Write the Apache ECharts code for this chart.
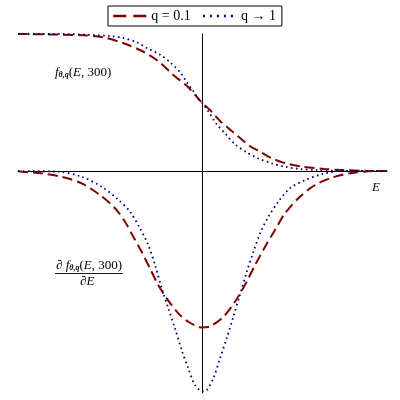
<!DOCTYPE html>
<html>
<head>
<meta charset="utf-8">
<script src="https://cdn.jsdelivr.net/npm/echarts@6/dist/echarts.min.js"></script>
<style>html,body{margin:0;padding:0;background:#fff}#c{width:400px;height:400px}</style>
</head>
<body>
<div id="c"></div>
<script>
// f_{θ,q}(E,300), q = 0.1
var fRedE = [-1.0,-0.648,-0.539,-0.431,-0.328,-0.241,-0.160,-0.084,-0.030,0.008,0.041,0.095,0.144,0.199,0.257,0.312,0.366,0.451,0.546,0.659,0.762,0.892,1.0];
var fRedV = [1.0,0.991,0.976,0.934,0.876,0.803,0.703,0.620,0.540,0.484,0.445,0.365,0.309,0.246,0.182,0.142,0.099,0.056,0.031,0.015,0.007,0.001,0.0];
// f_{θ,q}(E,300), q -> 1
var fBlueE = [-1.0,-0.772,-0.501,-0.431,-0.360,-0.295,-0.230,-0.171,-0.118,-0.079,-0.051,-0.024,0.0,0.030,0.077,0.122,0.176,0.240,0.301,0.375,0.447,0.528,0.619,0.745,1.0];
var fBlueV = [1.0,1.0,0.985,0.971,0.942,0.893,0.849,0.788,0.715,0.635,0.586,0.528,0.496,0.438,0.341,0.275,0.195,0.136,0.093,0.056,0.031,0.015,0.007,0.002,0.0];
// derivative, q = 0.1
var dRedE = [-1.0,-0.980,-0.872,-0.763,-0.655,-0.556,-0.474,-0.420,-0.375,-0.330,-0.285,-0.240,-0.194,-0.131,-0.077,0.0,0.041,0.113,0.176,0.230,0.285,0.339,0.393,0.447,0.528,0.610,0.700,0.799,0.944,1.0];
var dRedV = [-0.002,-0.005,-0.017,-0.042,-0.090,-0.175,-0.272,-0.370,-0.480,-0.589,-0.710,-0.832,-0.929,-1.039,-1.100,-1.142,-1.134,-1.064,-0.954,-0.832,-0.686,-0.553,-0.431,-0.309,-0.188,-0.102,-0.049,-0.017,0.0,0.0];
// derivative, q -> 1
var dBlueE = [-1.0,-0.782,-0.655,-0.546,-0.465,-0.393,-0.339,-0.294,-0.257,-0.221,-0.185,-0.149,-0.113,-0.077,-0.041,0.0,0.023,0.059,0.095,0.131,0.167,0.203,0.240,0.276,0.312,0.357,0.411,0.474,0.556,0.646,0.745,1.0];
var dBlueV = [0.0,-0.005,-0.042,-0.115,-0.199,-0.297,-0.418,-0.540,-0.686,-0.856,-1.002,-1.148,-1.307,-1.440,-1.562,-1.609,-1.599,-1.513,-1.367,-1.221,-1.064,-0.905,-0.735,-0.589,-0.455,-0.334,-0.224,-0.126,-0.066,-0.024,0.0,0.0];

var seriesNames = ['q = 0.1', 'q \u2192 1'];

function pairs(xs, ys){ return xs.map(function(x,i){ return [x, ys[i]]; }); }

var RED = '#800000', BLUE = '#000080';
var SERIF = '"Liberation Serif","DejaVu Serif",serif';
var redLine = {color: RED, width: 2, type: [10, 5]};
var blueLine = {color: BLUE, width: 1.8, type: [1.6, 3.4]};

var chart = echarts.init(document.getElementById('c'), null, {renderer: 'canvas'});
var labelRich = {
  i: {fontFamily: SERIF, fontStyle: 'italic', fontSize: 13, color: '#1a1a1a', lineHeight: 16, verticalAlign: 'bottom'},
  r: {fontFamily: SERIF, fontSize: 13, color: '#1a1a1a', lineHeight: 16, verticalAlign: 'bottom'},
  s: {fontFamily: SERIF, fontStyle: 'italic', fontWeight: 'bold', fontSize: 8, color: '#1a1a1a', lineHeight: 11, verticalAlign: 'bottom'}
};
chart.setOption({
  animation: false,
  backgroundColor: '#fff',
  grid: {left: 18, right: 13, top: 34, bottom: 7},
  legend: {
    data: [
      {name: seriesNames[0], lineStyle: {type: [13, 7], width: 2.5}},
      {name: seriesNames[1], lineStyle: {type: [2, 5], width: 2.5}}
    ],
    left: 108, top: 6,
    padding: [3, 6, 3, 4],
    itemWidth: 33, itemHeight: 12, itemGap: 11,
    borderColor: '#000', borderWidth: 1,
    itemStyle: {opacity: 0},
    textStyle: {fontFamily: SERIF, fontSize: 14, color: '#000'}
  },
  xAxis: {
    type: 'value', min: -1, max: 1,
    axisLine: {onZero: true, lineStyle: {color: '#000', width: 1}},
    axisTick: {show: false}, axisLabel: {show: false}, splitLine: {show: false}
  },
  yAxis: {
    type: 'value', min: -1.62, max: 1,
    axisLine: {show: true, onZero: true, lineStyle: {color: '#000', width: 1}},
    axisTick: {show: false}, axisLabel: {show: false}, splitLine: {show: false}
  },
  series: [
    {name: seriesNames[0], type: 'line', data: pairs(fRedE, fRedV), smooth: 0.3, symbol: 'none', lineStyle: redLine, itemStyle: {color: RED}, z: 3},
    {name: seriesNames[1], type: 'line', data: pairs(fBlueE, fBlueV), smooth: 0.3, symbol: 'none', lineStyle: blueLine, itemStyle: {color: BLUE}, z: 4},
    {name: seriesNames[0], type: 'line', data: pairs(dRedE, dRedV), smooth: 0.3, symbol: 'none', lineStyle: redLine, itemStyle: {color: RED}, z: 3},
    {name: seriesNames[1], type: 'line', data: pairs(dBlueE, dBlueV), smooth: 0.3, symbol: 'none', lineStyle: blueLine, itemStyle: {color: BLUE}, z: 4}
  ],
  graphic: [
    {type: 'text', left: 55, top: 66, style: {text: '{i|f}{s|\u03b8,q}{r|(}{i|E}{r|, 300)}', rich: labelRich}},
    {type: 'text', left: 56, top: 259, style: {text: '{i|\u2202 f}{s|\u03b8,q}{r|(}{i|E}{r|, 300)}', rich: labelRich}},
    {type: 'line', shape: {x1: 55, y1: 273.5, x2: 123, y2: 273.5}, style: {stroke: '#1a1a1a', lineWidth: 1}},
    {type: 'text', left: 80, top: 275, style: {text: '{i|\u2202E}', rich: labelRich}},
    {type: 'text', left: 372, top: 181, style: {text: '{i|E}', rich: labelRich}}
  ]
});
</script>
</body>
</html>
